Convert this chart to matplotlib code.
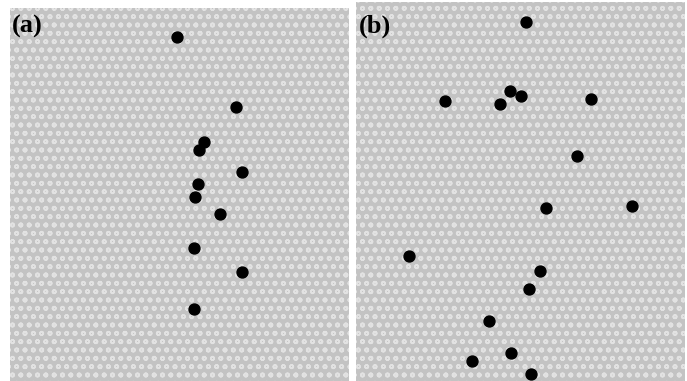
import matplotlib
matplotlib.use("Agg")
import matplotlib.pyplot as plt
from matplotlib.patches import Rectangle

# dot positions (pixel coordinates, y downward)
a_x = [177, 236, 204, 199, 242, 198, 195, 220, 194, 242, 194]
a_y = [37, 107, 142, 150, 172, 184, 197, 214, 248, 272, 309]

b_x = [526, 445, 510, 521, 500, 591, 577, 546, 632, 409, 540, 529, 489, 511, 472, 531]
b_y = [22, 101, 91, 96, 104, 99, 156, 208, 206, 256, 271, 289, 321, 353, 361, 374]

panel_labels = ["(a)", "(b)"]

fig = plt.figure(figsize=(6.87, 3.81), dpi=100)
ax = fig.add_axes([0, 0, 1, 1])
ax.set_xlim(0, 687)
ax.set_ylim(381, 0)
ax.axis("off")

# textured gray panels
plt.rcParams["hatch.linewidth"] = 1.2
for (x0, y0, w, h) in [(10, 8, 339, 373), (356, 2, 329, 379)]:
    ax.add_patch(Rectangle((x0, y0), w, h, facecolor="#c3c3c3",
                           edgecolor="#e2e2e2", hatch="oo", lw=0))

ax.scatter(a_x, a_y, s=62, c="black", marker="o", zorder=3)
ax.scatter(b_x, b_y, s=62, c="black", marker="o", zorder=3)

ax.text(12, 33, panel_labels[0], fontsize=19, fontweight="bold",
        family="Liberation Serif", va="baseline", ha="left")
ax.text(359, 33, panel_labels[1], fontsize=19, fontweight="bold",
        family="Liberation Serif", va="baseline", ha="left")

plt.savefig("out.png", dpi=100)
